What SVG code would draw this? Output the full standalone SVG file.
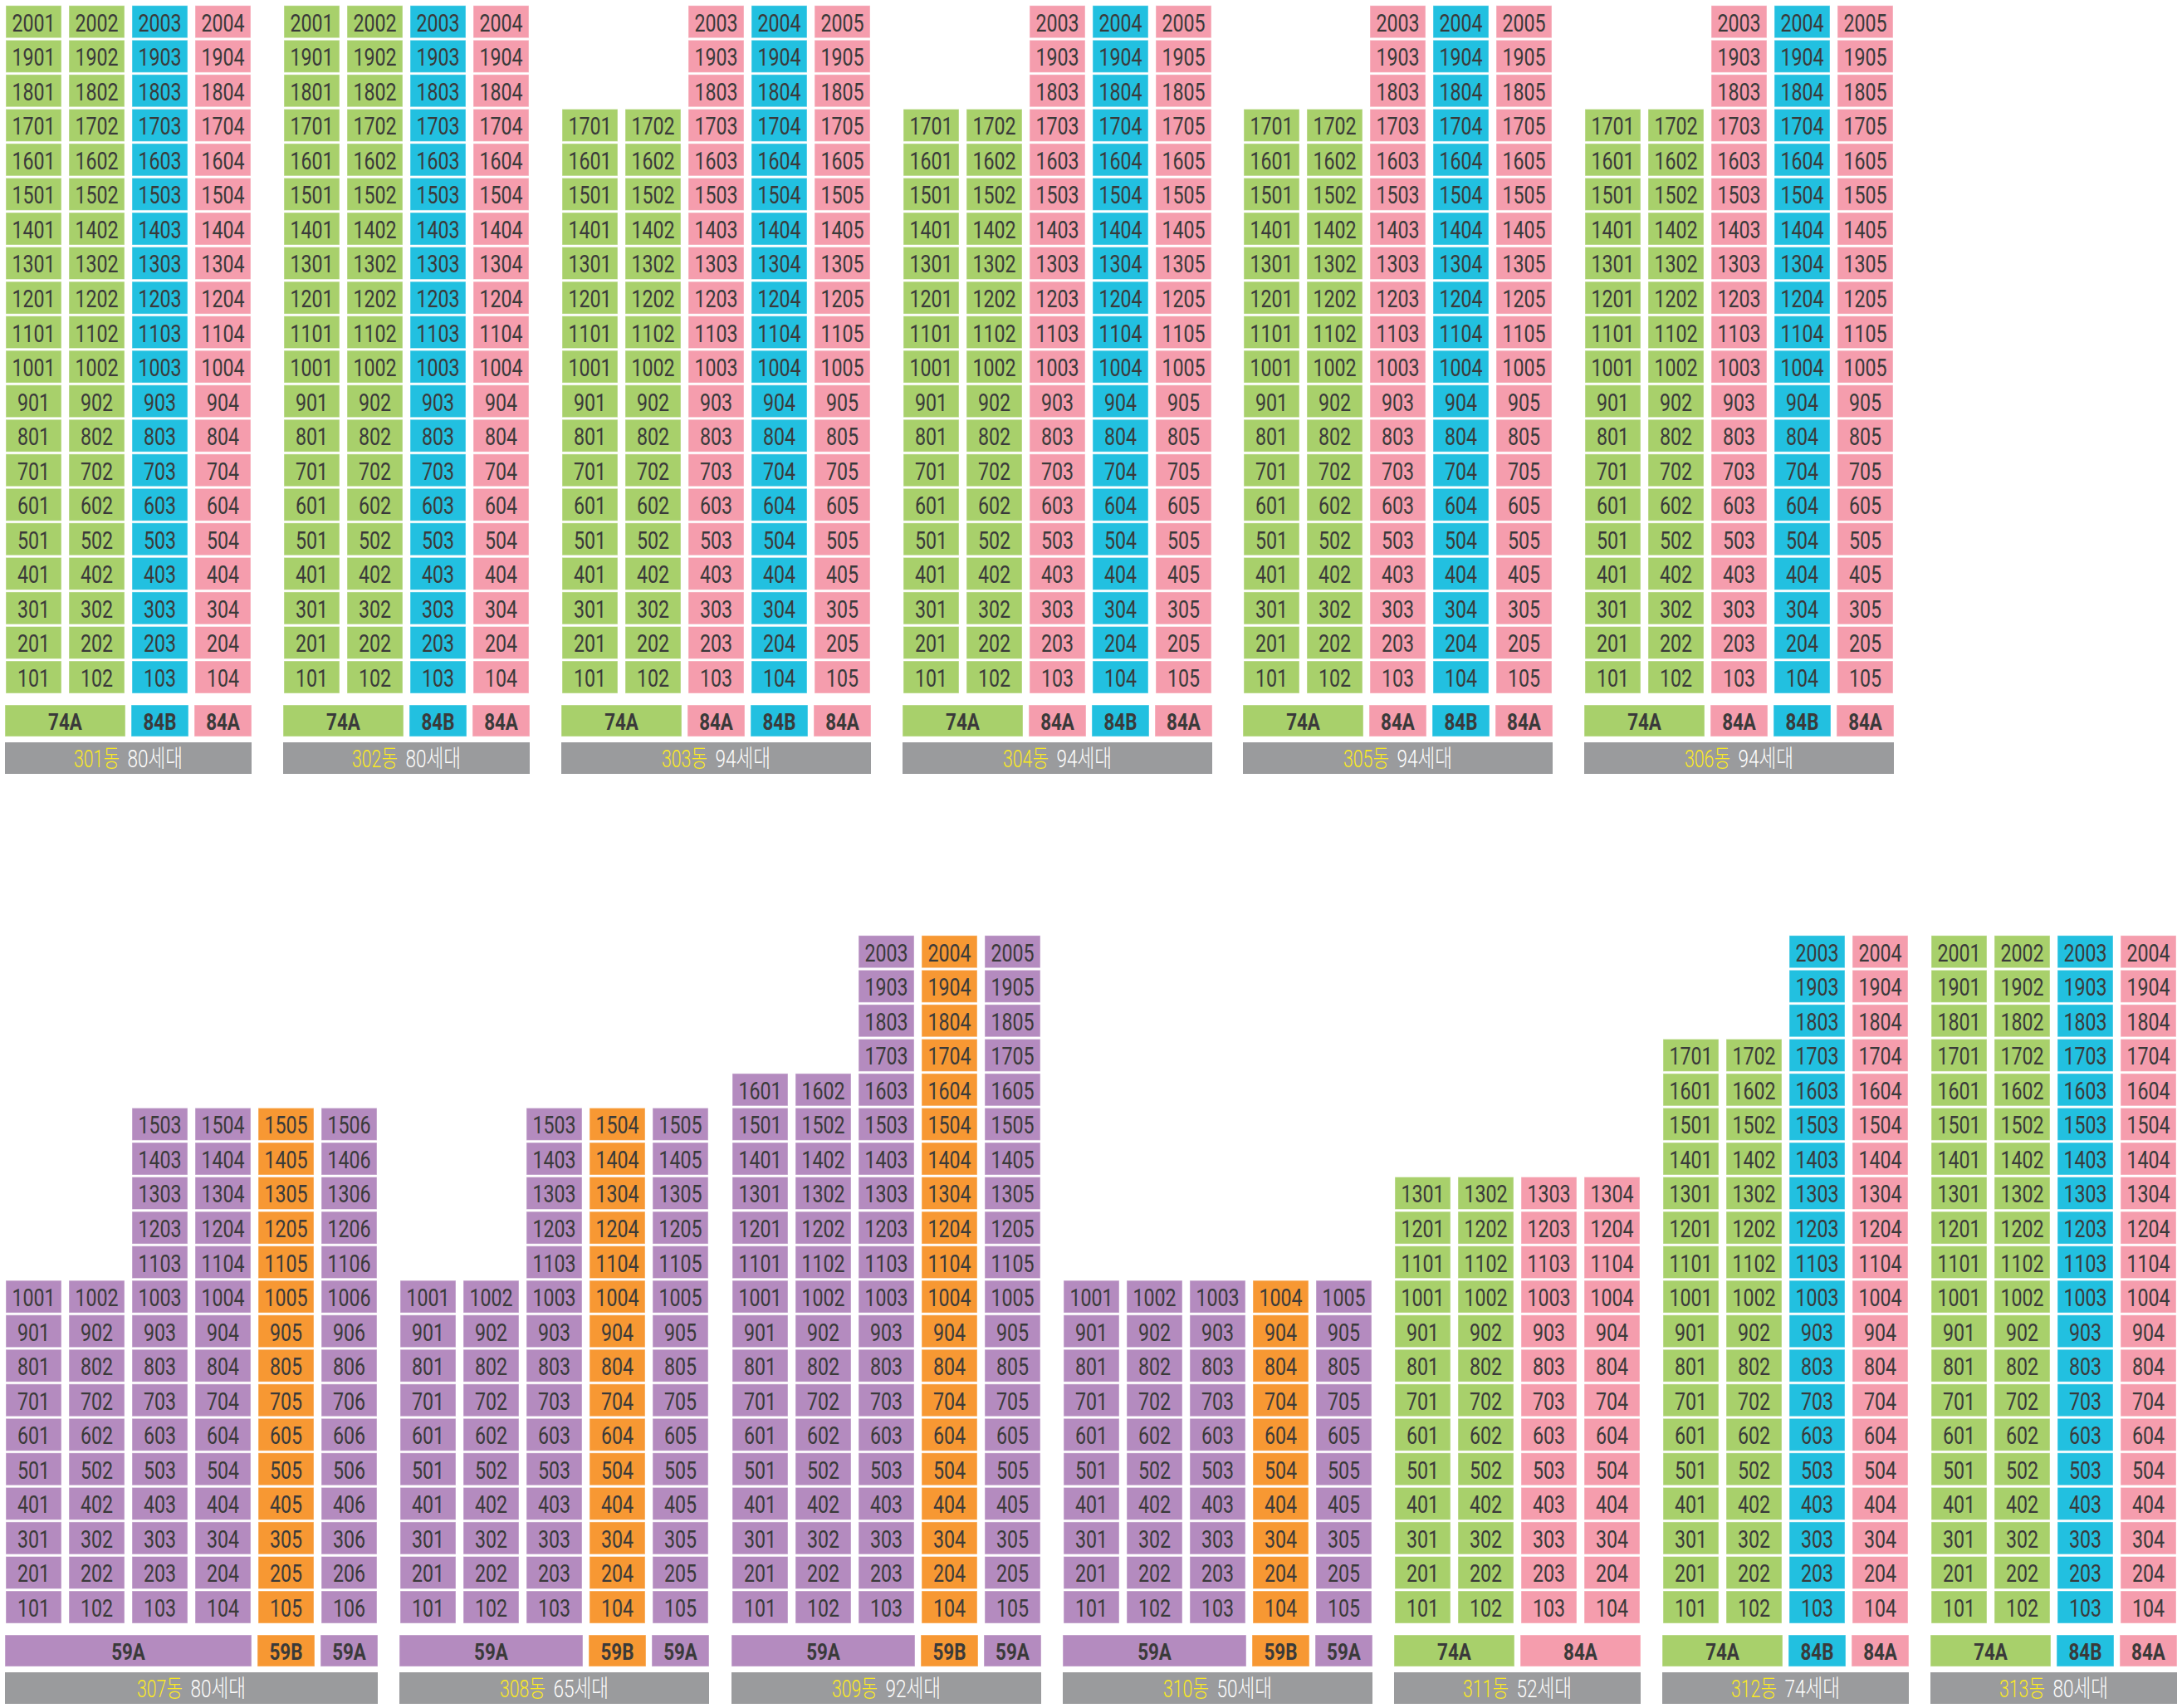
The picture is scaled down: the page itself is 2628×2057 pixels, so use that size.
<svg xmlns="http://www.w3.org/2000/svg" width="2628" height="2057" viewBox="0 0 2628 2057">
<style>
text{font-family:Roboto,"Noto Sans CJK KR",sans-serif;text-anchor:middle;fill:#3a3a3a}
.col rect{x:-33.5px;width:67px;height:39px;stroke:#fff;stroke-opacity:.45;stroke-width:1}
.col text{font-size:29px;transform:scaleX(.8)}
.g rect,.lg{fill:#a8d06b}
.b rect,.lb{fill:#22c0e0}
.p rect,.lp{fill:#f59dad}
.u rect,.lu{fill:#b48bbf}
.o rect,.lo{fill:#f79833}
.lg,.lb,.lp,.lu,.lo{stroke:#fff;stroke-opacity:.45;stroke-width:1}
.lab{font-size:28px;font-weight:bold;transform-box:fill-box;transform-origin:center;transform:scaleX(.8)}
.bar{fill:#9a9b9d}
.nm{font-size:29px;fill:#fff;text-anchor:start;font-weight:300}
.nm.y{fill:#fbea1f;text-anchor:end}
</style>
<rect width="2628" height="2057" fill="#fff"/>

<g id="b301">
<g class="col g" transform="translate(40.5)"><rect y="796"/><text y="827">101</text><rect y="754.5"/><text y="785.5">201</text><rect y="712.9"/><text y="743.9">301</text><rect y="671.4"/><text y="702.4">401</text><rect y="629.8"/><text y="660.8">501</text><rect y="588.3"/><text y="619.3">601</text><rect y="546.8"/><text y="577.8">701</text><rect y="505.2"/><text y="536.2">801</text><rect y="463.7"/><text y="494.7">901</text><rect y="422.1"/><text y="453.1">1001</text><rect y="380.6"/><text y="411.6">1101</text><rect y="339.1"/><text y="370.1">1201</text><rect y="297.5"/><text y="328.5">1301</text><rect y="256"/><text y="287">1401</text><rect y="214.4"/><text y="245.4">1501</text><rect y="172.9"/><text y="203.9">1601</text><rect y="131.4"/><text y="162.4">1701</text><rect y="89.8"/><text y="120.8">1801</text><rect y="48.3"/><text y="79.3">1901</text><rect y="6.7"/><text y="37.7">2001</text></g>
<g class="col g" transform="translate(116.5)"><rect y="796"/><text y="827">102</text><rect y="754.5"/><text y="785.5">202</text><rect y="712.9"/><text y="743.9">302</text><rect y="671.4"/><text y="702.4">402</text><rect y="629.8"/><text y="660.8">502</text><rect y="588.3"/><text y="619.3">602</text><rect y="546.8"/><text y="577.8">702</text><rect y="505.2"/><text y="536.2">802</text><rect y="463.7"/><text y="494.7">902</text><rect y="422.1"/><text y="453.1">1002</text><rect y="380.6"/><text y="411.6">1102</text><rect y="339.1"/><text y="370.1">1202</text><rect y="297.5"/><text y="328.5">1302</text><rect y="256"/><text y="287">1402</text><rect y="214.4"/><text y="245.4">1502</text><rect y="172.9"/><text y="203.9">1602</text><rect y="131.4"/><text y="162.4">1702</text><rect y="89.8"/><text y="120.8">1802</text><rect y="48.3"/><text y="79.3">1902</text><rect y="6.7"/><text y="37.7">2002</text></g>
<g class="col b" transform="translate(192.5)"><rect y="796"/><text y="827">103</text><rect y="754.5"/><text y="785.5">203</text><rect y="712.9"/><text y="743.9">303</text><rect y="671.4"/><text y="702.4">403</text><rect y="629.8"/><text y="660.8">503</text><rect y="588.3"/><text y="619.3">603</text><rect y="546.8"/><text y="577.8">703</text><rect y="505.2"/><text y="536.2">803</text><rect y="463.7"/><text y="494.7">903</text><rect y="422.1"/><text y="453.1">1003</text><rect y="380.6"/><text y="411.6">1103</text><rect y="339.1"/><text y="370.1">1203</text><rect y="297.5"/><text y="328.5">1303</text><rect y="256"/><text y="287">1403</text><rect y="214.4"/><text y="245.4">1503</text><rect y="172.9"/><text y="203.9">1603</text><rect y="131.4"/><text y="162.4">1703</text><rect y="89.8"/><text y="120.8">1803</text><rect y="48.3"/><text y="79.3">1903</text><rect y="6.7"/><text y="37.7">2003</text></g>
<g class="col p" transform="translate(268.5)"><rect y="796"/><text y="827">104</text><rect y="754.5"/><text y="785.5">204</text><rect y="712.9"/><text y="743.9">304</text><rect y="671.4"/><text y="702.4">404</text><rect y="629.8"/><text y="660.8">504</text><rect y="588.3"/><text y="619.3">604</text><rect y="546.8"/><text y="577.8">704</text><rect y="505.2"/><text y="536.2">804</text><rect y="463.7"/><text y="494.7">904</text><rect y="422.1"/><text y="453.1">1004</text><rect y="380.6"/><text y="411.6">1104</text><rect y="339.1"/><text y="370.1">1204</text><rect y="297.5"/><text y="328.5">1304</text><rect y="256"/><text y="287">1404</text><rect y="214.4"/><text y="245.4">1504</text><rect y="172.9"/><text y="203.9">1604</text><rect y="131.4"/><text y="162.4">1704</text><rect y="89.8"/><text y="120.8">1804</text><rect y="48.3"/><text y="79.3">1904</text><rect y="6.7"/><text y="37.7">2004</text></g>
<rect class="lg" x="6" y="849" width="145" height="38"/><text class="lab" x="78.5" y="879">74A</text>
<rect class="lb" x="158" y="849" width="69" height="38"/><text class="lab" x="192.5" y="879">84B</text>
<rect class="lp" x="234" y="849" width="69" height="38"/><text class="lab" x="268.5" y="879">84A</text>
<rect class="bar" x="6" y="894" width="297" height="38"/><text class="nm y" text-anchor="end" x="144" y="923.5" textLength="55" lengthAdjust="spacingAndGlyphs">301동</text><text class="nm" text-anchor="start" x="153.5" y="923.5" textLength="66.5" lengthAdjust="spacingAndGlyphs">80세대</text>
</g>

<g id="b302">
<g class="col g" transform="translate(375.5)"><rect y="796"/><text y="827">101</text><rect y="754.5"/><text y="785.5">201</text><rect y="712.9"/><text y="743.9">301</text><rect y="671.4"/><text y="702.4">401</text><rect y="629.8"/><text y="660.8">501</text><rect y="588.3"/><text y="619.3">601</text><rect y="546.8"/><text y="577.8">701</text><rect y="505.2"/><text y="536.2">801</text><rect y="463.7"/><text y="494.7">901</text><rect y="422.1"/><text y="453.1">1001</text><rect y="380.6"/><text y="411.6">1101</text><rect y="339.1"/><text y="370.1">1201</text><rect y="297.5"/><text y="328.5">1301</text><rect y="256"/><text y="287">1401</text><rect y="214.4"/><text y="245.4">1501</text><rect y="172.9"/><text y="203.9">1601</text><rect y="131.4"/><text y="162.4">1701</text><rect y="89.8"/><text y="120.8">1801</text><rect y="48.3"/><text y="79.3">1901</text><rect y="6.7"/><text y="37.7">2001</text></g>
<g class="col g" transform="translate(451.5)"><rect y="796"/><text y="827">102</text><rect y="754.5"/><text y="785.5">202</text><rect y="712.9"/><text y="743.9">302</text><rect y="671.4"/><text y="702.4">402</text><rect y="629.8"/><text y="660.8">502</text><rect y="588.3"/><text y="619.3">602</text><rect y="546.8"/><text y="577.8">702</text><rect y="505.2"/><text y="536.2">802</text><rect y="463.7"/><text y="494.7">902</text><rect y="422.1"/><text y="453.1">1002</text><rect y="380.6"/><text y="411.6">1102</text><rect y="339.1"/><text y="370.1">1202</text><rect y="297.5"/><text y="328.5">1302</text><rect y="256"/><text y="287">1402</text><rect y="214.4"/><text y="245.4">1502</text><rect y="172.9"/><text y="203.9">1602</text><rect y="131.4"/><text y="162.4">1702</text><rect y="89.8"/><text y="120.8">1802</text><rect y="48.3"/><text y="79.3">1902</text><rect y="6.7"/><text y="37.7">2002</text></g>
<g class="col b" transform="translate(527.5)"><rect y="796"/><text y="827">103</text><rect y="754.5"/><text y="785.5">203</text><rect y="712.9"/><text y="743.9">303</text><rect y="671.4"/><text y="702.4">403</text><rect y="629.8"/><text y="660.8">503</text><rect y="588.3"/><text y="619.3">603</text><rect y="546.8"/><text y="577.8">703</text><rect y="505.2"/><text y="536.2">803</text><rect y="463.7"/><text y="494.7">903</text><rect y="422.1"/><text y="453.1">1003</text><rect y="380.6"/><text y="411.6">1103</text><rect y="339.1"/><text y="370.1">1203</text><rect y="297.5"/><text y="328.5">1303</text><rect y="256"/><text y="287">1403</text><rect y="214.4"/><text y="245.4">1503</text><rect y="172.9"/><text y="203.9">1603</text><rect y="131.4"/><text y="162.4">1703</text><rect y="89.8"/><text y="120.8">1803</text><rect y="48.3"/><text y="79.3">1903</text><rect y="6.7"/><text y="37.7">2003</text></g>
<g class="col p" transform="translate(603.5)"><rect y="796"/><text y="827">104</text><rect y="754.5"/><text y="785.5">204</text><rect y="712.9"/><text y="743.9">304</text><rect y="671.4"/><text y="702.4">404</text><rect y="629.8"/><text y="660.8">504</text><rect y="588.3"/><text y="619.3">604</text><rect y="546.8"/><text y="577.8">704</text><rect y="505.2"/><text y="536.2">804</text><rect y="463.7"/><text y="494.7">904</text><rect y="422.1"/><text y="453.1">1004</text><rect y="380.6"/><text y="411.6">1104</text><rect y="339.1"/><text y="370.1">1204</text><rect y="297.5"/><text y="328.5">1304</text><rect y="256"/><text y="287">1404</text><rect y="214.4"/><text y="245.4">1504</text><rect y="172.9"/><text y="203.9">1604</text><rect y="131.4"/><text y="162.4">1704</text><rect y="89.8"/><text y="120.8">1804</text><rect y="48.3"/><text y="79.3">1904</text><rect y="6.7"/><text y="37.7">2004</text></g>
<rect class="lg" x="341" y="849" width="145" height="38"/><text class="lab" x="413.5" y="879">74A</text>
<rect class="lb" x="493" y="849" width="69" height="38"/><text class="lab" x="527.5" y="879">84B</text>
<rect class="lp" x="569" y="849" width="69" height="38"/><text class="lab" x="603.5" y="879">84A</text>
<rect class="bar" x="341" y="894" width="297" height="38"/><text class="nm y" text-anchor="end" x="479" y="923.5" textLength="55" lengthAdjust="spacingAndGlyphs">302동</text><text class="nm" text-anchor="start" x="488.5" y="923.5" textLength="66.5" lengthAdjust="spacingAndGlyphs">80세대</text>
</g>

<g id="b303">
<g class="col g" transform="translate(710.5)"><rect y="796"/><text y="827">101</text><rect y="754.5"/><text y="785.5">201</text><rect y="712.9"/><text y="743.9">301</text><rect y="671.4"/><text y="702.4">401</text><rect y="629.8"/><text y="660.8">501</text><rect y="588.3"/><text y="619.3">601</text><rect y="546.8"/><text y="577.8">701</text><rect y="505.2"/><text y="536.2">801</text><rect y="463.7"/><text y="494.7">901</text><rect y="422.1"/><text y="453.1">1001</text><rect y="380.6"/><text y="411.6">1101</text><rect y="339.1"/><text y="370.1">1201</text><rect y="297.5"/><text y="328.5">1301</text><rect y="256"/><text y="287">1401</text><rect y="214.4"/><text y="245.4">1501</text><rect y="172.9"/><text y="203.9">1601</text><rect y="131.4"/><text y="162.4">1701</text></g>
<g class="col g" transform="translate(786.5)"><rect y="796"/><text y="827">102</text><rect y="754.5"/><text y="785.5">202</text><rect y="712.9"/><text y="743.9">302</text><rect y="671.4"/><text y="702.4">402</text><rect y="629.8"/><text y="660.8">502</text><rect y="588.3"/><text y="619.3">602</text><rect y="546.8"/><text y="577.8">702</text><rect y="505.2"/><text y="536.2">802</text><rect y="463.7"/><text y="494.7">902</text><rect y="422.1"/><text y="453.1">1002</text><rect y="380.6"/><text y="411.6">1102</text><rect y="339.1"/><text y="370.1">1202</text><rect y="297.5"/><text y="328.5">1302</text><rect y="256"/><text y="287">1402</text><rect y="214.4"/><text y="245.4">1502</text><rect y="172.9"/><text y="203.9">1602</text><rect y="131.4"/><text y="162.4">1702</text></g>
<g class="col p" transform="translate(862.5)"><rect y="796"/><text y="827">103</text><rect y="754.5"/><text y="785.5">203</text><rect y="712.9"/><text y="743.9">303</text><rect y="671.4"/><text y="702.4">403</text><rect y="629.8"/><text y="660.8">503</text><rect y="588.3"/><text y="619.3">603</text><rect y="546.8"/><text y="577.8">703</text><rect y="505.2"/><text y="536.2">803</text><rect y="463.7"/><text y="494.7">903</text><rect y="422.1"/><text y="453.1">1003</text><rect y="380.6"/><text y="411.6">1103</text><rect y="339.1"/><text y="370.1">1203</text><rect y="297.5"/><text y="328.5">1303</text><rect y="256"/><text y="287">1403</text><rect y="214.4"/><text y="245.4">1503</text><rect y="172.9"/><text y="203.9">1603</text><rect y="131.4"/><text y="162.4">1703</text><rect y="89.8"/><text y="120.8">1803</text><rect y="48.3"/><text y="79.3">1903</text><rect y="6.7"/><text y="37.7">2003</text></g>
<g class="col b" transform="translate(938.5)"><rect y="796"/><text y="827">104</text><rect y="754.5"/><text y="785.5">204</text><rect y="712.9"/><text y="743.9">304</text><rect y="671.4"/><text y="702.4">404</text><rect y="629.8"/><text y="660.8">504</text><rect y="588.3"/><text y="619.3">604</text><rect y="546.8"/><text y="577.8">704</text><rect y="505.2"/><text y="536.2">804</text><rect y="463.7"/><text y="494.7">904</text><rect y="422.1"/><text y="453.1">1004</text><rect y="380.6"/><text y="411.6">1104</text><rect y="339.1"/><text y="370.1">1204</text><rect y="297.5"/><text y="328.5">1304</text><rect y="256"/><text y="287">1404</text><rect y="214.4"/><text y="245.4">1504</text><rect y="172.9"/><text y="203.9">1604</text><rect y="131.4"/><text y="162.4">1704</text><rect y="89.8"/><text y="120.8">1804</text><rect y="48.3"/><text y="79.3">1904</text><rect y="6.7"/><text y="37.7">2004</text></g>
<g class="col p" transform="translate(1014.5)"><rect y="796"/><text y="827">105</text><rect y="754.5"/><text y="785.5">205</text><rect y="712.9"/><text y="743.9">305</text><rect y="671.4"/><text y="702.4">405</text><rect y="629.8"/><text y="660.8">505</text><rect y="588.3"/><text y="619.3">605</text><rect y="546.8"/><text y="577.8">705</text><rect y="505.2"/><text y="536.2">805</text><rect y="463.7"/><text y="494.7">905</text><rect y="422.1"/><text y="453.1">1005</text><rect y="380.6"/><text y="411.6">1105</text><rect y="339.1"/><text y="370.1">1205</text><rect y="297.5"/><text y="328.5">1305</text><rect y="256"/><text y="287">1405</text><rect y="214.4"/><text y="245.4">1505</text><rect y="172.9"/><text y="203.9">1605</text><rect y="131.4"/><text y="162.4">1705</text><rect y="89.8"/><text y="120.8">1805</text><rect y="48.3"/><text y="79.3">1905</text><rect y="6.7"/><text y="37.7">2005</text></g>
<rect class="lg" x="676" y="849" width="145" height="38"/><text class="lab" x="748.5" y="879">74A</text>
<rect class="lp" x="828" y="849" width="69" height="38"/><text class="lab" x="862.5" y="879">84A</text>
<rect class="lb" x="904" y="849" width="69" height="38"/><text class="lab" x="938.5" y="879">84B</text>
<rect class="lp" x="980" y="849" width="69" height="38"/><text class="lab" x="1014.5" y="879">84A</text>
<rect class="bar" x="676" y="894" width="373" height="38"/><text class="nm y" text-anchor="end" x="852" y="923.5" textLength="55" lengthAdjust="spacingAndGlyphs">303동</text><text class="nm" text-anchor="start" x="861.5" y="923.5" textLength="66.5" lengthAdjust="spacingAndGlyphs">94세대</text>
</g>

<g id="b304">
<g class="col g" transform="translate(1121.5)"><rect y="796"/><text y="827">101</text><rect y="754.5"/><text y="785.5">201</text><rect y="712.9"/><text y="743.9">301</text><rect y="671.4"/><text y="702.4">401</text><rect y="629.8"/><text y="660.8">501</text><rect y="588.3"/><text y="619.3">601</text><rect y="546.8"/><text y="577.8">701</text><rect y="505.2"/><text y="536.2">801</text><rect y="463.7"/><text y="494.7">901</text><rect y="422.1"/><text y="453.1">1001</text><rect y="380.6"/><text y="411.6">1101</text><rect y="339.1"/><text y="370.1">1201</text><rect y="297.5"/><text y="328.5">1301</text><rect y="256"/><text y="287">1401</text><rect y="214.4"/><text y="245.4">1501</text><rect y="172.9"/><text y="203.9">1601</text><rect y="131.4"/><text y="162.4">1701</text></g>
<g class="col g" transform="translate(1197.5)"><rect y="796"/><text y="827">102</text><rect y="754.5"/><text y="785.5">202</text><rect y="712.9"/><text y="743.9">302</text><rect y="671.4"/><text y="702.4">402</text><rect y="629.8"/><text y="660.8">502</text><rect y="588.3"/><text y="619.3">602</text><rect y="546.8"/><text y="577.8">702</text><rect y="505.2"/><text y="536.2">802</text><rect y="463.7"/><text y="494.7">902</text><rect y="422.1"/><text y="453.1">1002</text><rect y="380.6"/><text y="411.6">1102</text><rect y="339.1"/><text y="370.1">1202</text><rect y="297.5"/><text y="328.5">1302</text><rect y="256"/><text y="287">1402</text><rect y="214.4"/><text y="245.4">1502</text><rect y="172.9"/><text y="203.9">1602</text><rect y="131.4"/><text y="162.4">1702</text></g>
<g class="col p" transform="translate(1273.5)"><rect y="796"/><text y="827">103</text><rect y="754.5"/><text y="785.5">203</text><rect y="712.9"/><text y="743.9">303</text><rect y="671.4"/><text y="702.4">403</text><rect y="629.8"/><text y="660.8">503</text><rect y="588.3"/><text y="619.3">603</text><rect y="546.8"/><text y="577.8">703</text><rect y="505.2"/><text y="536.2">803</text><rect y="463.7"/><text y="494.7">903</text><rect y="422.1"/><text y="453.1">1003</text><rect y="380.6"/><text y="411.6">1103</text><rect y="339.1"/><text y="370.1">1203</text><rect y="297.5"/><text y="328.5">1303</text><rect y="256"/><text y="287">1403</text><rect y="214.4"/><text y="245.4">1503</text><rect y="172.9"/><text y="203.9">1603</text><rect y="131.4"/><text y="162.4">1703</text><rect y="89.8"/><text y="120.8">1803</text><rect y="48.3"/><text y="79.3">1903</text><rect y="6.7"/><text y="37.7">2003</text></g>
<g class="col b" transform="translate(1349.5)"><rect y="796"/><text y="827">104</text><rect y="754.5"/><text y="785.5">204</text><rect y="712.9"/><text y="743.9">304</text><rect y="671.4"/><text y="702.4">404</text><rect y="629.8"/><text y="660.8">504</text><rect y="588.3"/><text y="619.3">604</text><rect y="546.8"/><text y="577.8">704</text><rect y="505.2"/><text y="536.2">804</text><rect y="463.7"/><text y="494.7">904</text><rect y="422.1"/><text y="453.1">1004</text><rect y="380.6"/><text y="411.6">1104</text><rect y="339.1"/><text y="370.1">1204</text><rect y="297.5"/><text y="328.5">1304</text><rect y="256"/><text y="287">1404</text><rect y="214.4"/><text y="245.4">1504</text><rect y="172.9"/><text y="203.9">1604</text><rect y="131.4"/><text y="162.4">1704</text><rect y="89.8"/><text y="120.8">1804</text><rect y="48.3"/><text y="79.3">1904</text><rect y="6.7"/><text y="37.7">2004</text></g>
<g class="col p" transform="translate(1425.5)"><rect y="796"/><text y="827">105</text><rect y="754.5"/><text y="785.5">205</text><rect y="712.9"/><text y="743.9">305</text><rect y="671.4"/><text y="702.4">405</text><rect y="629.8"/><text y="660.8">505</text><rect y="588.3"/><text y="619.3">605</text><rect y="546.8"/><text y="577.8">705</text><rect y="505.2"/><text y="536.2">805</text><rect y="463.7"/><text y="494.7">905</text><rect y="422.1"/><text y="453.1">1005</text><rect y="380.6"/><text y="411.6">1105</text><rect y="339.1"/><text y="370.1">1205</text><rect y="297.5"/><text y="328.5">1305</text><rect y="256"/><text y="287">1405</text><rect y="214.4"/><text y="245.4">1505</text><rect y="172.9"/><text y="203.9">1605</text><rect y="131.4"/><text y="162.4">1705</text><rect y="89.8"/><text y="120.8">1805</text><rect y="48.3"/><text y="79.3">1905</text><rect y="6.7"/><text y="37.7">2005</text></g>
<rect class="lg" x="1087" y="849" width="145" height="38"/><text class="lab" x="1159.5" y="879">74A</text>
<rect class="lp" x="1239" y="849" width="69" height="38"/><text class="lab" x="1273.5" y="879">84A</text>
<rect class="lb" x="1315" y="849" width="69" height="38"/><text class="lab" x="1349.5" y="879">84B</text>
<rect class="lp" x="1391" y="849" width="69" height="38"/><text class="lab" x="1425.5" y="879">84A</text>
<rect class="bar" x="1087" y="894" width="373" height="38"/><text class="nm y" text-anchor="end" x="1263" y="923.5" textLength="55" lengthAdjust="spacingAndGlyphs">304동</text><text class="nm" text-anchor="start" x="1272.5" y="923.5" textLength="66.5" lengthAdjust="spacingAndGlyphs">94세대</text>
</g>

<g id="b305">
<g class="col g" transform="translate(1531.5)"><rect y="796"/><text y="827">101</text><rect y="754.5"/><text y="785.5">201</text><rect y="712.9"/><text y="743.9">301</text><rect y="671.4"/><text y="702.4">401</text><rect y="629.8"/><text y="660.8">501</text><rect y="588.3"/><text y="619.3">601</text><rect y="546.8"/><text y="577.8">701</text><rect y="505.2"/><text y="536.2">801</text><rect y="463.7"/><text y="494.7">901</text><rect y="422.1"/><text y="453.1">1001</text><rect y="380.6"/><text y="411.6">1101</text><rect y="339.1"/><text y="370.1">1201</text><rect y="297.5"/><text y="328.5">1301</text><rect y="256"/><text y="287">1401</text><rect y="214.4"/><text y="245.4">1501</text><rect y="172.9"/><text y="203.9">1601</text><rect y="131.4"/><text y="162.4">1701</text></g>
<g class="col g" transform="translate(1607.5)"><rect y="796"/><text y="827">102</text><rect y="754.5"/><text y="785.5">202</text><rect y="712.9"/><text y="743.9">302</text><rect y="671.4"/><text y="702.4">402</text><rect y="629.8"/><text y="660.8">502</text><rect y="588.3"/><text y="619.3">602</text><rect y="546.8"/><text y="577.8">702</text><rect y="505.2"/><text y="536.2">802</text><rect y="463.7"/><text y="494.7">902</text><rect y="422.1"/><text y="453.1">1002</text><rect y="380.6"/><text y="411.6">1102</text><rect y="339.1"/><text y="370.1">1202</text><rect y="297.5"/><text y="328.5">1302</text><rect y="256"/><text y="287">1402</text><rect y="214.4"/><text y="245.4">1502</text><rect y="172.9"/><text y="203.9">1602</text><rect y="131.4"/><text y="162.4">1702</text></g>
<g class="col p" transform="translate(1683.5)"><rect y="796"/><text y="827">103</text><rect y="754.5"/><text y="785.5">203</text><rect y="712.9"/><text y="743.9">303</text><rect y="671.4"/><text y="702.4">403</text><rect y="629.8"/><text y="660.8">503</text><rect y="588.3"/><text y="619.3">603</text><rect y="546.8"/><text y="577.8">703</text><rect y="505.2"/><text y="536.2">803</text><rect y="463.7"/><text y="494.7">903</text><rect y="422.1"/><text y="453.1">1003</text><rect y="380.6"/><text y="411.6">1103</text><rect y="339.1"/><text y="370.1">1203</text><rect y="297.5"/><text y="328.5">1303</text><rect y="256"/><text y="287">1403</text><rect y="214.4"/><text y="245.4">1503</text><rect y="172.9"/><text y="203.9">1603</text><rect y="131.4"/><text y="162.4">1703</text><rect y="89.8"/><text y="120.8">1803</text><rect y="48.3"/><text y="79.3">1903</text><rect y="6.7"/><text y="37.7">2003</text></g>
<g class="col b" transform="translate(1759.5)"><rect y="796"/><text y="827">104</text><rect y="754.5"/><text y="785.5">204</text><rect y="712.9"/><text y="743.9">304</text><rect y="671.4"/><text y="702.4">404</text><rect y="629.8"/><text y="660.8">504</text><rect y="588.3"/><text y="619.3">604</text><rect y="546.8"/><text y="577.8">704</text><rect y="505.2"/><text y="536.2">804</text><rect y="463.7"/><text y="494.7">904</text><rect y="422.1"/><text y="453.1">1004</text><rect y="380.6"/><text y="411.6">1104</text><rect y="339.1"/><text y="370.1">1204</text><rect y="297.5"/><text y="328.5">1304</text><rect y="256"/><text y="287">1404</text><rect y="214.4"/><text y="245.4">1504</text><rect y="172.9"/><text y="203.9">1604</text><rect y="131.4"/><text y="162.4">1704</text><rect y="89.8"/><text y="120.8">1804</text><rect y="48.3"/><text y="79.3">1904</text><rect y="6.7"/><text y="37.7">2004</text></g>
<g class="col p" transform="translate(1835.5)"><rect y="796"/><text y="827">105</text><rect y="754.5"/><text y="785.5">205</text><rect y="712.9"/><text y="743.9">305</text><rect y="671.4"/><text y="702.4">405</text><rect y="629.8"/><text y="660.8">505</text><rect y="588.3"/><text y="619.3">605</text><rect y="546.8"/><text y="577.8">705</text><rect y="505.2"/><text y="536.2">805</text><rect y="463.7"/><text y="494.7">905</text><rect y="422.1"/><text y="453.1">1005</text><rect y="380.6"/><text y="411.6">1105</text><rect y="339.1"/><text y="370.1">1205</text><rect y="297.5"/><text y="328.5">1305</text><rect y="256"/><text y="287">1405</text><rect y="214.4"/><text y="245.4">1505</text><rect y="172.9"/><text y="203.9">1605</text><rect y="131.4"/><text y="162.4">1705</text><rect y="89.8"/><text y="120.8">1805</text><rect y="48.3"/><text y="79.3">1905</text><rect y="6.7"/><text y="37.7">2005</text></g>
<rect class="lg" x="1497" y="849" width="145" height="38"/><text class="lab" x="1569.5" y="879">74A</text>
<rect class="lp" x="1649" y="849" width="69" height="38"/><text class="lab" x="1683.5" y="879">84A</text>
<rect class="lb" x="1725" y="849" width="69" height="38"/><text class="lab" x="1759.5" y="879">84B</text>
<rect class="lp" x="1801" y="849" width="69" height="38"/><text class="lab" x="1835.5" y="879">84A</text>
<rect class="bar" x="1497" y="894" width="373" height="38"/><text class="nm y" text-anchor="end" x="1673" y="923.5" textLength="55" lengthAdjust="spacingAndGlyphs">305동</text><text class="nm" text-anchor="start" x="1682.5" y="923.5" textLength="66.5" lengthAdjust="spacingAndGlyphs">94세대</text>
</g>

<g id="b306">
<g class="col g" transform="translate(1942.5)"><rect y="796"/><text y="827">101</text><rect y="754.5"/><text y="785.5">201</text><rect y="712.9"/><text y="743.9">301</text><rect y="671.4"/><text y="702.4">401</text><rect y="629.8"/><text y="660.8">501</text><rect y="588.3"/><text y="619.3">601</text><rect y="546.8"/><text y="577.8">701</text><rect y="505.2"/><text y="536.2">801</text><rect y="463.7"/><text y="494.7">901</text><rect y="422.1"/><text y="453.1">1001</text><rect y="380.6"/><text y="411.6">1101</text><rect y="339.1"/><text y="370.1">1201</text><rect y="297.5"/><text y="328.5">1301</text><rect y="256"/><text y="287">1401</text><rect y="214.4"/><text y="245.4">1501</text><rect y="172.9"/><text y="203.9">1601</text><rect y="131.4"/><text y="162.4">1701</text></g>
<g class="col g" transform="translate(2018.5)"><rect y="796"/><text y="827">102</text><rect y="754.5"/><text y="785.5">202</text><rect y="712.9"/><text y="743.9">302</text><rect y="671.4"/><text y="702.4">402</text><rect y="629.8"/><text y="660.8">502</text><rect y="588.3"/><text y="619.3">602</text><rect y="546.8"/><text y="577.8">702</text><rect y="505.2"/><text y="536.2">802</text><rect y="463.7"/><text y="494.7">902</text><rect y="422.1"/><text y="453.1">1002</text><rect y="380.6"/><text y="411.6">1102</text><rect y="339.1"/><text y="370.1">1202</text><rect y="297.5"/><text y="328.5">1302</text><rect y="256"/><text y="287">1402</text><rect y="214.4"/><text y="245.4">1502</text><rect y="172.9"/><text y="203.9">1602</text><rect y="131.4"/><text y="162.4">1702</text></g>
<g class="col p" transform="translate(2094.5)"><rect y="796"/><text y="827">103</text><rect y="754.5"/><text y="785.5">203</text><rect y="712.9"/><text y="743.9">303</text><rect y="671.4"/><text y="702.4">403</text><rect y="629.8"/><text y="660.8">503</text><rect y="588.3"/><text y="619.3">603</text><rect y="546.8"/><text y="577.8">703</text><rect y="505.2"/><text y="536.2">803</text><rect y="463.7"/><text y="494.7">903</text><rect y="422.1"/><text y="453.1">1003</text><rect y="380.6"/><text y="411.6">1103</text><rect y="339.1"/><text y="370.1">1203</text><rect y="297.5"/><text y="328.5">1303</text><rect y="256"/><text y="287">1403</text><rect y="214.4"/><text y="245.4">1503</text><rect y="172.9"/><text y="203.9">1603</text><rect y="131.4"/><text y="162.4">1703</text><rect y="89.8"/><text y="120.8">1803</text><rect y="48.3"/><text y="79.3">1903</text><rect y="6.7"/><text y="37.7">2003</text></g>
<g class="col b" transform="translate(2170.5)"><rect y="796"/><text y="827">104</text><rect y="754.5"/><text y="785.5">204</text><rect y="712.9"/><text y="743.9">304</text><rect y="671.4"/><text y="702.4">404</text><rect y="629.8"/><text y="660.8">504</text><rect y="588.3"/><text y="619.3">604</text><rect y="546.8"/><text y="577.8">704</text><rect y="505.2"/><text y="536.2">804</text><rect y="463.7"/><text y="494.7">904</text><rect y="422.1"/><text y="453.1">1004</text><rect y="380.6"/><text y="411.6">1104</text><rect y="339.1"/><text y="370.1">1204</text><rect y="297.5"/><text y="328.5">1304</text><rect y="256"/><text y="287">1404</text><rect y="214.4"/><text y="245.4">1504</text><rect y="172.9"/><text y="203.9">1604</text><rect y="131.4"/><text y="162.4">1704</text><rect y="89.8"/><text y="120.8">1804</text><rect y="48.3"/><text y="79.3">1904</text><rect y="6.7"/><text y="37.7">2004</text></g>
<g class="col p" transform="translate(2246.5)"><rect y="796"/><text y="827">105</text><rect y="754.5"/><text y="785.5">205</text><rect y="712.9"/><text y="743.9">305</text><rect y="671.4"/><text y="702.4">405</text><rect y="629.8"/><text y="660.8">505</text><rect y="588.3"/><text y="619.3">605</text><rect y="546.8"/><text y="577.8">705</text><rect y="505.2"/><text y="536.2">805</text><rect y="463.7"/><text y="494.7">905</text><rect y="422.1"/><text y="453.1">1005</text><rect y="380.6"/><text y="411.6">1105</text><rect y="339.1"/><text y="370.1">1205</text><rect y="297.5"/><text y="328.5">1305</text><rect y="256"/><text y="287">1405</text><rect y="214.4"/><text y="245.4">1505</text><rect y="172.9"/><text y="203.9">1605</text><rect y="131.4"/><text y="162.4">1705</text><rect y="89.8"/><text y="120.8">1805</text><rect y="48.3"/><text y="79.3">1905</text><rect y="6.7"/><text y="37.7">2005</text></g>
<rect class="lg" x="1908" y="849" width="145" height="38"/><text class="lab" x="1980.5" y="879">74A</text>
<rect class="lp" x="2060" y="849" width="69" height="38"/><text class="lab" x="2094.5" y="879">84A</text>
<rect class="lb" x="2136" y="849" width="69" height="38"/><text class="lab" x="2170.5" y="879">84B</text>
<rect class="lp" x="2212" y="849" width="69" height="38"/><text class="lab" x="2246.5" y="879">84A</text>
<rect class="bar" x="1908" y="894" width="373" height="38"/><text class="nm y" text-anchor="end" x="2084" y="923.5" textLength="55" lengthAdjust="spacingAndGlyphs">306동</text><text class="nm" text-anchor="start" x="2093.5" y="923.5" textLength="66.5" lengthAdjust="spacingAndGlyphs">94세대</text>
</g>

<g id="b307" transform="translate(0,1120)">
<g class="col u" transform="translate(40.5)"><rect y="796"/><text y="827">101</text><rect y="754.5"/><text y="785.5">201</text><rect y="712.9"/><text y="743.9">301</text><rect y="671.4"/><text y="702.4">401</text><rect y="629.8"/><text y="660.8">501</text><rect y="588.3"/><text y="619.3">601</text><rect y="546.8"/><text y="577.8">701</text><rect y="505.2"/><text y="536.2">801</text><rect y="463.7"/><text y="494.7">901</text><rect y="422.1"/><text y="453.1">1001</text></g>
<g class="col u" transform="translate(116.5)"><rect y="796"/><text y="827">102</text><rect y="754.5"/><text y="785.5">202</text><rect y="712.9"/><text y="743.9">302</text><rect y="671.4"/><text y="702.4">402</text><rect y="629.8"/><text y="660.8">502</text><rect y="588.3"/><text y="619.3">602</text><rect y="546.8"/><text y="577.8">702</text><rect y="505.2"/><text y="536.2">802</text><rect y="463.7"/><text y="494.7">902</text><rect y="422.1"/><text y="453.1">1002</text></g>
<g class="col u" transform="translate(192.5)"><rect y="796"/><text y="827">103</text><rect y="754.5"/><text y="785.5">203</text><rect y="712.9"/><text y="743.9">303</text><rect y="671.4"/><text y="702.4">403</text><rect y="629.8"/><text y="660.8">503</text><rect y="588.3"/><text y="619.3">603</text><rect y="546.8"/><text y="577.8">703</text><rect y="505.2"/><text y="536.2">803</text><rect y="463.7"/><text y="494.7">903</text><rect y="422.1"/><text y="453.1">1003</text><rect y="380.6"/><text y="411.6">1103</text><rect y="339.1"/><text y="370.1">1203</text><rect y="297.5"/><text y="328.5">1303</text><rect y="256"/><text y="287">1403</text><rect y="214.4"/><text y="245.4">1503</text></g>
<g class="col u" transform="translate(268.5)"><rect y="796"/><text y="827">104</text><rect y="754.5"/><text y="785.5">204</text><rect y="712.9"/><text y="743.9">304</text><rect y="671.4"/><text y="702.4">404</text><rect y="629.8"/><text y="660.8">504</text><rect y="588.3"/><text y="619.3">604</text><rect y="546.8"/><text y="577.8">704</text><rect y="505.2"/><text y="536.2">804</text><rect y="463.7"/><text y="494.7">904</text><rect y="422.1"/><text y="453.1">1004</text><rect y="380.6"/><text y="411.6">1104</text><rect y="339.1"/><text y="370.1">1204</text><rect y="297.5"/><text y="328.5">1304</text><rect y="256"/><text y="287">1404</text><rect y="214.4"/><text y="245.4">1504</text></g>
<g class="col o" transform="translate(344.5)"><rect y="796"/><text y="827">105</text><rect y="754.5"/><text y="785.5">205</text><rect y="712.9"/><text y="743.9">305</text><rect y="671.4"/><text y="702.4">405</text><rect y="629.8"/><text y="660.8">505</text><rect y="588.3"/><text y="619.3">605</text><rect y="546.8"/><text y="577.8">705</text><rect y="505.2"/><text y="536.2">805</text><rect y="463.7"/><text y="494.7">905</text><rect y="422.1"/><text y="453.1">1005</text><rect y="380.6"/><text y="411.6">1105</text><rect y="339.1"/><text y="370.1">1205</text><rect y="297.5"/><text y="328.5">1305</text><rect y="256"/><text y="287">1405</text><rect y="214.4"/><text y="245.4">1505</text></g>
<g class="col u" transform="translate(420.5)"><rect y="796"/><text y="827">106</text><rect y="754.5"/><text y="785.5">206</text><rect y="712.9"/><text y="743.9">306</text><rect y="671.4"/><text y="702.4">406</text><rect y="629.8"/><text y="660.8">506</text><rect y="588.3"/><text y="619.3">606</text><rect y="546.8"/><text y="577.8">706</text><rect y="505.2"/><text y="536.2">806</text><rect y="463.7"/><text y="494.7">906</text><rect y="422.1"/><text y="453.1">1006</text><rect y="380.6"/><text y="411.6">1106</text><rect y="339.1"/><text y="370.1">1206</text><rect y="297.5"/><text y="328.5">1306</text><rect y="256"/><text y="287">1406</text><rect y="214.4"/><text y="245.4">1506</text></g>
<rect class="lu" x="6" y="849" width="297" height="38"/><text class="lab" x="154.5" y="879">59A</text>
<rect class="lo" x="310" y="849" width="69" height="38"/><text class="lab" x="344.5" y="879">59B</text>
<rect class="lu" x="386" y="849" width="69" height="38"/><text class="lab" x="420.5" y="879">59A</text>
<rect class="bar" x="6" y="894" width="449" height="38"/><text class="nm y" text-anchor="end" x="220" y="923.5" textLength="55" lengthAdjust="spacingAndGlyphs">307동</text><text class="nm" text-anchor="start" x="229.5" y="923.5" textLength="66.5" lengthAdjust="spacingAndGlyphs">80세대</text>
</g>

<g id="b308" transform="translate(0,1120)">
<g class="col u" transform="translate(515.5)"><rect y="796"/><text y="827">101</text><rect y="754.5"/><text y="785.5">201</text><rect y="712.9"/><text y="743.9">301</text><rect y="671.4"/><text y="702.4">401</text><rect y="629.8"/><text y="660.8">501</text><rect y="588.3"/><text y="619.3">601</text><rect y="546.8"/><text y="577.8">701</text><rect y="505.2"/><text y="536.2">801</text><rect y="463.7"/><text y="494.7">901</text><rect y="422.1"/><text y="453.1">1001</text></g>
<g class="col u" transform="translate(591.5)"><rect y="796"/><text y="827">102</text><rect y="754.5"/><text y="785.5">202</text><rect y="712.9"/><text y="743.9">302</text><rect y="671.4"/><text y="702.4">402</text><rect y="629.8"/><text y="660.8">502</text><rect y="588.3"/><text y="619.3">602</text><rect y="546.8"/><text y="577.8">702</text><rect y="505.2"/><text y="536.2">802</text><rect y="463.7"/><text y="494.7">902</text><rect y="422.1"/><text y="453.1">1002</text></g>
<g class="col u" transform="translate(667.5)"><rect y="796"/><text y="827">103</text><rect y="754.5"/><text y="785.5">203</text><rect y="712.9"/><text y="743.9">303</text><rect y="671.4"/><text y="702.4">403</text><rect y="629.8"/><text y="660.8">503</text><rect y="588.3"/><text y="619.3">603</text><rect y="546.8"/><text y="577.8">703</text><rect y="505.2"/><text y="536.2">803</text><rect y="463.7"/><text y="494.7">903</text><rect y="422.1"/><text y="453.1">1003</text><rect y="380.6"/><text y="411.6">1103</text><rect y="339.1"/><text y="370.1">1203</text><rect y="297.5"/><text y="328.5">1303</text><rect y="256"/><text y="287">1403</text><rect y="214.4"/><text y="245.4">1503</text></g>
<g class="col o" transform="translate(743.5)"><rect y="796"/><text y="827">104</text><rect y="754.5"/><text y="785.5">204</text><rect y="712.9"/><text y="743.9">304</text><rect y="671.4"/><text y="702.4">404</text><rect y="629.8"/><text y="660.8">504</text><rect y="588.3"/><text y="619.3">604</text><rect y="546.8"/><text y="577.8">704</text><rect y="505.2"/><text y="536.2">804</text><rect y="463.7"/><text y="494.7">904</text><rect y="422.1"/><text y="453.1">1004</text><rect y="380.6"/><text y="411.6">1104</text><rect y="339.1"/><text y="370.1">1204</text><rect y="297.5"/><text y="328.5">1304</text><rect y="256"/><text y="287">1404</text><rect y="214.4"/><text y="245.4">1504</text></g>
<g class="col u" transform="translate(819.5)"><rect y="796"/><text y="827">105</text><rect y="754.5"/><text y="785.5">205</text><rect y="712.9"/><text y="743.9">305</text><rect y="671.4"/><text y="702.4">405</text><rect y="629.8"/><text y="660.8">505</text><rect y="588.3"/><text y="619.3">605</text><rect y="546.8"/><text y="577.8">705</text><rect y="505.2"/><text y="536.2">805</text><rect y="463.7"/><text y="494.7">905</text><rect y="422.1"/><text y="453.1">1005</text><rect y="380.6"/><text y="411.6">1105</text><rect y="339.1"/><text y="370.1">1205</text><rect y="297.5"/><text y="328.5">1305</text><rect y="256"/><text y="287">1405</text><rect y="214.4"/><text y="245.4">1505</text></g>
<rect class="lu" x="481" y="849" width="221" height="38"/><text class="lab" x="591.5" y="879">59A</text>
<rect class="lo" x="709" y="849" width="69" height="38"/><text class="lab" x="743.5" y="879">59B</text>
<rect class="lu" x="785" y="849" width="69" height="38"/><text class="lab" x="819.5" y="879">59A</text>
<rect class="bar" x="481" y="894" width="373" height="38"/><text class="nm y" text-anchor="end" x="657" y="923.5" textLength="55" lengthAdjust="spacingAndGlyphs">308동</text><text class="nm" text-anchor="start" x="666.5" y="923.5" textLength="66.5" lengthAdjust="spacingAndGlyphs">65세대</text>
</g>

<g id="b309" transform="translate(0,1120)">
<g class="col u" transform="translate(915.5)"><rect y="796"/><text y="827">101</text><rect y="754.5"/><text y="785.5">201</text><rect y="712.9"/><text y="743.9">301</text><rect y="671.4"/><text y="702.4">401</text><rect y="629.8"/><text y="660.8">501</text><rect y="588.3"/><text y="619.3">601</text><rect y="546.8"/><text y="577.8">701</text><rect y="505.2"/><text y="536.2">801</text><rect y="463.7"/><text y="494.7">901</text><rect y="422.1"/><text y="453.1">1001</text><rect y="380.6"/><text y="411.6">1101</text><rect y="339.1"/><text y="370.1">1201</text><rect y="297.5"/><text y="328.5">1301</text><rect y="256"/><text y="287">1401</text><rect y="214.4"/><text y="245.4">1501</text><rect y="172.9"/><text y="203.9">1601</text></g>
<g class="col u" transform="translate(991.5)"><rect y="796"/><text y="827">102</text><rect y="754.5"/><text y="785.5">202</text><rect y="712.9"/><text y="743.9">302</text><rect y="671.4"/><text y="702.4">402</text><rect y="629.8"/><text y="660.8">502</text><rect y="588.3"/><text y="619.3">602</text><rect y="546.8"/><text y="577.8">702</text><rect y="505.2"/><text y="536.2">802</text><rect y="463.7"/><text y="494.7">902</text><rect y="422.1"/><text y="453.1">1002</text><rect y="380.6"/><text y="411.6">1102</text><rect y="339.1"/><text y="370.1">1202</text><rect y="297.5"/><text y="328.5">1302</text><rect y="256"/><text y="287">1402</text><rect y="214.4"/><text y="245.4">1502</text><rect y="172.9"/><text y="203.9">1602</text></g>
<g class="col u" transform="translate(1067.5)"><rect y="796"/><text y="827">103</text><rect y="754.5"/><text y="785.5">203</text><rect y="712.9"/><text y="743.9">303</text><rect y="671.4"/><text y="702.4">403</text><rect y="629.8"/><text y="660.8">503</text><rect y="588.3"/><text y="619.3">603</text><rect y="546.8"/><text y="577.8">703</text><rect y="505.2"/><text y="536.2">803</text><rect y="463.7"/><text y="494.7">903</text><rect y="422.1"/><text y="453.1">1003</text><rect y="380.6"/><text y="411.6">1103</text><rect y="339.1"/><text y="370.1">1203</text><rect y="297.5"/><text y="328.5">1303</text><rect y="256"/><text y="287">1403</text><rect y="214.4"/><text y="245.4">1503</text><rect y="172.9"/><text y="203.9">1603</text><rect y="131.4"/><text y="162.4">1703</text><rect y="89.8"/><text y="120.8">1803</text><rect y="48.3"/><text y="79.3">1903</text><rect y="6.7"/><text y="37.7">2003</text></g>
<g class="col o" transform="translate(1143.5)"><rect y="796"/><text y="827">104</text><rect y="754.5"/><text y="785.5">204</text><rect y="712.9"/><text y="743.9">304</text><rect y="671.4"/><text y="702.4">404</text><rect y="629.8"/><text y="660.8">504</text><rect y="588.3"/><text y="619.3">604</text><rect y="546.8"/><text y="577.8">704</text><rect y="505.2"/><text y="536.2">804</text><rect y="463.7"/><text y="494.7">904</text><rect y="422.1"/><text y="453.1">1004</text><rect y="380.6"/><text y="411.6">1104</text><rect y="339.1"/><text y="370.1">1204</text><rect y="297.5"/><text y="328.5">1304</text><rect y="256"/><text y="287">1404</text><rect y="214.4"/><text y="245.4">1504</text><rect y="172.9"/><text y="203.9">1604</text><rect y="131.4"/><text y="162.4">1704</text><rect y="89.8"/><text y="120.8">1804</text><rect y="48.3"/><text y="79.3">1904</text><rect y="6.7"/><text y="37.7">2004</text></g>
<g class="col u" transform="translate(1219.5)"><rect y="796"/><text y="827">105</text><rect y="754.5"/><text y="785.5">205</text><rect y="712.9"/><text y="743.9">305</text><rect y="671.4"/><text y="702.4">405</text><rect y="629.8"/><text y="660.8">505</text><rect y="588.3"/><text y="619.3">605</text><rect y="546.8"/><text y="577.8">705</text><rect y="505.2"/><text y="536.2">805</text><rect y="463.7"/><text y="494.7">905</text><rect y="422.1"/><text y="453.1">1005</text><rect y="380.6"/><text y="411.6">1105</text><rect y="339.1"/><text y="370.1">1205</text><rect y="297.5"/><text y="328.5">1305</text><rect y="256"/><text y="287">1405</text><rect y="214.4"/><text y="245.4">1505</text><rect y="172.9"/><text y="203.9">1605</text><rect y="131.4"/><text y="162.4">1705</text><rect y="89.8"/><text y="120.8">1805</text><rect y="48.3"/><text y="79.3">1905</text><rect y="6.7"/><text y="37.7">2005</text></g>
<rect class="lu" x="881" y="849" width="221" height="38"/><text class="lab" x="991.5" y="879">59A</text>
<rect class="lo" x="1109" y="849" width="69" height="38"/><text class="lab" x="1143.5" y="879">59B</text>
<rect class="lu" x="1185" y="849" width="69" height="38"/><text class="lab" x="1219.5" y="879">59A</text>
<rect class="bar" x="881" y="894" width="373" height="38"/><text class="nm y" text-anchor="end" x="1057" y="923.5" textLength="55" lengthAdjust="spacingAndGlyphs">309동</text><text class="nm" text-anchor="start" x="1066.5" y="923.5" textLength="66.5" lengthAdjust="spacingAndGlyphs">92세대</text>
</g>

<g id="b310" transform="translate(0,1120)">
<g class="col u" transform="translate(1314.5)"><rect y="796"/><text y="827">101</text><rect y="754.5"/><text y="785.5">201</text><rect y="712.9"/><text y="743.9">301</text><rect y="671.4"/><text y="702.4">401</text><rect y="629.8"/><text y="660.8">501</text><rect y="588.3"/><text y="619.3">601</text><rect y="546.8"/><text y="577.8">701</text><rect y="505.2"/><text y="536.2">801</text><rect y="463.7"/><text y="494.7">901</text><rect y="422.1"/><text y="453.1">1001</text></g>
<g class="col u" transform="translate(1390.5)"><rect y="796"/><text y="827">102</text><rect y="754.5"/><text y="785.5">202</text><rect y="712.9"/><text y="743.9">302</text><rect y="671.4"/><text y="702.4">402</text><rect y="629.8"/><text y="660.8">502</text><rect y="588.3"/><text y="619.3">602</text><rect y="546.8"/><text y="577.8">702</text><rect y="505.2"/><text y="536.2">802</text><rect y="463.7"/><text y="494.7">902</text><rect y="422.1"/><text y="453.1">1002</text></g>
<g class="col u" transform="translate(1466.5)"><rect y="796"/><text y="827">103</text><rect y="754.5"/><text y="785.5">203</text><rect y="712.9"/><text y="743.9">303</text><rect y="671.4"/><text y="702.4">403</text><rect y="629.8"/><text y="660.8">503</text><rect y="588.3"/><text y="619.3">603</text><rect y="546.8"/><text y="577.8">703</text><rect y="505.2"/><text y="536.2">803</text><rect y="463.7"/><text y="494.7">903</text><rect y="422.1"/><text y="453.1">1003</text></g>
<g class="col o" transform="translate(1542.5)"><rect y="796"/><text y="827">104</text><rect y="754.5"/><text y="785.5">204</text><rect y="712.9"/><text y="743.9">304</text><rect y="671.4"/><text y="702.4">404</text><rect y="629.8"/><text y="660.8">504</text><rect y="588.3"/><text y="619.3">604</text><rect y="546.8"/><text y="577.8">704</text><rect y="505.2"/><text y="536.2">804</text><rect y="463.7"/><text y="494.7">904</text><rect y="422.1"/><text y="453.1">1004</text></g>
<g class="col u" transform="translate(1618.5)"><rect y="796"/><text y="827">105</text><rect y="754.5"/><text y="785.5">205</text><rect y="712.9"/><text y="743.9">305</text><rect y="671.4"/><text y="702.4">405</text><rect y="629.8"/><text y="660.8">505</text><rect y="588.3"/><text y="619.3">605</text><rect y="546.8"/><text y="577.8">705</text><rect y="505.2"/><text y="536.2">805</text><rect y="463.7"/><text y="494.7">905</text><rect y="422.1"/><text y="453.1">1005</text></g>
<rect class="lu" x="1280" y="849" width="221" height="38"/><text class="lab" x="1390.5" y="879">59A</text>
<rect class="lo" x="1508" y="849" width="69" height="38"/><text class="lab" x="1542.5" y="879">59B</text>
<rect class="lu" x="1584" y="849" width="69" height="38"/><text class="lab" x="1618.5" y="879">59A</text>
<rect class="bar" x="1280" y="894" width="373" height="38"/><text class="nm y" text-anchor="end" x="1456" y="923.5" textLength="55" lengthAdjust="spacingAndGlyphs">310동</text><text class="nm" text-anchor="start" x="1465.5" y="923.5" textLength="66.5" lengthAdjust="spacingAndGlyphs">50세대</text>
</g>

<g id="b311" transform="translate(0,1120)">
<g class="col g" transform="translate(1713.5)"><rect y="796"/><text y="827">101</text><rect y="754.5"/><text y="785.5">201</text><rect y="712.9"/><text y="743.9">301</text><rect y="671.4"/><text y="702.4">401</text><rect y="629.8"/><text y="660.8">501</text><rect y="588.3"/><text y="619.3">601</text><rect y="546.8"/><text y="577.8">701</text><rect y="505.2"/><text y="536.2">801</text><rect y="463.7"/><text y="494.7">901</text><rect y="422.1"/><text y="453.1">1001</text><rect y="380.6"/><text y="411.6">1101</text><rect y="339.1"/><text y="370.1">1201</text><rect y="297.5"/><text y="328.5">1301</text></g>
<g class="col g" transform="translate(1789.5)"><rect y="796"/><text y="827">102</text><rect y="754.5"/><text y="785.5">202</text><rect y="712.9"/><text y="743.9">302</text><rect y="671.4"/><text y="702.4">402</text><rect y="629.8"/><text y="660.8">502</text><rect y="588.3"/><text y="619.3">602</text><rect y="546.8"/><text y="577.8">702</text><rect y="505.2"/><text y="536.2">802</text><rect y="463.7"/><text y="494.7">902</text><rect y="422.1"/><text y="453.1">1002</text><rect y="380.6"/><text y="411.6">1102</text><rect y="339.1"/><text y="370.1">1202</text><rect y="297.5"/><text y="328.5">1302</text></g>
<g class="col p" transform="translate(1865.5)"><rect y="796"/><text y="827">103</text><rect y="754.5"/><text y="785.5">203</text><rect y="712.9"/><text y="743.9">303</text><rect y="671.4"/><text y="702.4">403</text><rect y="629.8"/><text y="660.8">503</text><rect y="588.3"/><text y="619.3">603</text><rect y="546.8"/><text y="577.8">703</text><rect y="505.2"/><text y="536.2">803</text><rect y="463.7"/><text y="494.7">903</text><rect y="422.1"/><text y="453.1">1003</text><rect y="380.6"/><text y="411.6">1103</text><rect y="339.1"/><text y="370.1">1203</text><rect y="297.5"/><text y="328.5">1303</text></g>
<g class="col p" transform="translate(1941.5)"><rect y="796"/><text y="827">104</text><rect y="754.5"/><text y="785.5">204</text><rect y="712.9"/><text y="743.9">304</text><rect y="671.4"/><text y="702.4">404</text><rect y="629.8"/><text y="660.8">504</text><rect y="588.3"/><text y="619.3">604</text><rect y="546.8"/><text y="577.8">704</text><rect y="505.2"/><text y="536.2">804</text><rect y="463.7"/><text y="494.7">904</text><rect y="422.1"/><text y="453.1">1004</text><rect y="380.6"/><text y="411.6">1104</text><rect y="339.1"/><text y="370.1">1204</text><rect y="297.5"/><text y="328.5">1304</text></g>
<rect class="lg" x="1679" y="849" width="145" height="38"/><text class="lab" x="1751.5" y="879">74A</text>
<rect class="lp" x="1831" y="849" width="145" height="38"/><text class="lab" x="1903.5" y="879">84A</text>
<rect class="bar" x="1679" y="894" width="297" height="38"/><text class="nm y" text-anchor="end" x="1817" y="923.5" textLength="55" lengthAdjust="spacingAndGlyphs">311동</text><text class="nm" text-anchor="start" x="1826.5" y="923.5" textLength="66.5" lengthAdjust="spacingAndGlyphs">52세대</text>
</g>

<g id="b312" transform="translate(0,1120)">
<g class="col g" transform="translate(2036.5)"><rect y="796"/><text y="827">101</text><rect y="754.5"/><text y="785.5">201</text><rect y="712.9"/><text y="743.9">301</text><rect y="671.4"/><text y="702.4">401</text><rect y="629.8"/><text y="660.8">501</text><rect y="588.3"/><text y="619.3">601</text><rect y="546.8"/><text y="577.8">701</text><rect y="505.2"/><text y="536.2">801</text><rect y="463.7"/><text y="494.7">901</text><rect y="422.1"/><text y="453.1">1001</text><rect y="380.6"/><text y="411.6">1101</text><rect y="339.1"/><text y="370.1">1201</text><rect y="297.5"/><text y="328.5">1301</text><rect y="256"/><text y="287">1401</text><rect y="214.4"/><text y="245.4">1501</text><rect y="172.9"/><text y="203.9">1601</text><rect y="131.4"/><text y="162.4">1701</text></g>
<g class="col g" transform="translate(2112.5)"><rect y="796"/><text y="827">102</text><rect y="754.5"/><text y="785.5">202</text><rect y="712.9"/><text y="743.9">302</text><rect y="671.4"/><text y="702.4">402</text><rect y="629.8"/><text y="660.8">502</text><rect y="588.3"/><text y="619.3">602</text><rect y="546.8"/><text y="577.8">702</text><rect y="505.2"/><text y="536.2">802</text><rect y="463.7"/><text y="494.7">902</text><rect y="422.1"/><text y="453.1">1002</text><rect y="380.6"/><text y="411.6">1102</text><rect y="339.1"/><text y="370.1">1202</text><rect y="297.5"/><text y="328.5">1302</text><rect y="256"/><text y="287">1402</text><rect y="214.4"/><text y="245.4">1502</text><rect y="172.9"/><text y="203.9">1602</text><rect y="131.4"/><text y="162.4">1702</text></g>
<g class="col b" transform="translate(2188.5)"><rect y="796"/><text y="827">103</text><rect y="754.5"/><text y="785.5">203</text><rect y="712.9"/><text y="743.9">303</text><rect y="671.4"/><text y="702.4">403</text><rect y="629.8"/><text y="660.8">503</text><rect y="588.3"/><text y="619.3">603</text><rect y="546.8"/><text y="577.8">703</text><rect y="505.2"/><text y="536.2">803</text><rect y="463.7"/><text y="494.7">903</text><rect y="422.1"/><text y="453.1">1003</text><rect y="380.6"/><text y="411.6">1103</text><rect y="339.1"/><text y="370.1">1203</text><rect y="297.5"/><text y="328.5">1303</text><rect y="256"/><text y="287">1403</text><rect y="214.4"/><text y="245.4">1503</text><rect y="172.9"/><text y="203.9">1603</text><rect y="131.4"/><text y="162.4">1703</text><rect y="89.8"/><text y="120.8">1803</text><rect y="48.3"/><text y="79.3">1903</text><rect y="6.7"/><text y="37.7">2003</text></g>
<g class="col p" transform="translate(2264.5)"><rect y="796"/><text y="827">104</text><rect y="754.5"/><text y="785.5">204</text><rect y="712.9"/><text y="743.9">304</text><rect y="671.4"/><text y="702.4">404</text><rect y="629.8"/><text y="660.8">504</text><rect y="588.3"/><text y="619.3">604</text><rect y="546.8"/><text y="577.8">704</text><rect y="505.2"/><text y="536.2">804</text><rect y="463.7"/><text y="494.7">904</text><rect y="422.1"/><text y="453.1">1004</text><rect y="380.6"/><text y="411.6">1104</text><rect y="339.1"/><text y="370.1">1204</text><rect y="297.5"/><text y="328.5">1304</text><rect y="256"/><text y="287">1404</text><rect y="214.4"/><text y="245.4">1504</text><rect y="172.9"/><text y="203.9">1604</text><rect y="131.4"/><text y="162.4">1704</text><rect y="89.8"/><text y="120.8">1804</text><rect y="48.3"/><text y="79.3">1904</text><rect y="6.7"/><text y="37.7">2004</text></g>
<rect class="lg" x="2002" y="849" width="145" height="38"/><text class="lab" x="2074.5" y="879">74A</text>
<rect class="lb" x="2154" y="849" width="69" height="38"/><text class="lab" x="2188.5" y="879">84B</text>
<rect class="lp" x="2230" y="849" width="69" height="38"/><text class="lab" x="2264.5" y="879">84A</text>
<rect class="bar" x="2002" y="894" width="297" height="38"/><text class="nm y" text-anchor="end" x="2140" y="923.5" textLength="55" lengthAdjust="spacingAndGlyphs">312동</text><text class="nm" text-anchor="start" x="2149.5" y="923.5" textLength="66.5" lengthAdjust="spacingAndGlyphs">74세대</text>
</g>

<g id="b313" transform="translate(0,1120)">
<g class="col g" transform="translate(2359.5)"><rect y="796"/><text y="827">101</text><rect y="754.5"/><text y="785.5">201</text><rect y="712.9"/><text y="743.9">301</text><rect y="671.4"/><text y="702.4">401</text><rect y="629.8"/><text y="660.8">501</text><rect y="588.3"/><text y="619.3">601</text><rect y="546.8"/><text y="577.8">701</text><rect y="505.2"/><text y="536.2">801</text><rect y="463.7"/><text y="494.7">901</text><rect y="422.1"/><text y="453.1">1001</text><rect y="380.6"/><text y="411.6">1101</text><rect y="339.1"/><text y="370.1">1201</text><rect y="297.5"/><text y="328.5">1301</text><rect y="256"/><text y="287">1401</text><rect y="214.4"/><text y="245.4">1501</text><rect y="172.9"/><text y="203.9">1601</text><rect y="131.4"/><text y="162.4">1701</text><rect y="89.8"/><text y="120.8">1801</text><rect y="48.3"/><text y="79.3">1901</text><rect y="6.7"/><text y="37.7">2001</text></g>
<g class="col g" transform="translate(2435.5)"><rect y="796"/><text y="827">102</text><rect y="754.5"/><text y="785.5">202</text><rect y="712.9"/><text y="743.9">302</text><rect y="671.4"/><text y="702.4">402</text><rect y="629.8"/><text y="660.8">502</text><rect y="588.3"/><text y="619.3">602</text><rect y="546.8"/><text y="577.8">702</text><rect y="505.2"/><text y="536.2">802</text><rect y="463.7"/><text y="494.7">902</text><rect y="422.1"/><text y="453.1">1002</text><rect y="380.6"/><text y="411.6">1102</text><rect y="339.1"/><text y="370.1">1202</text><rect y="297.5"/><text y="328.5">1302</text><rect y="256"/><text y="287">1402</text><rect y="214.4"/><text y="245.4">1502</text><rect y="172.9"/><text y="203.9">1602</text><rect y="131.4"/><text y="162.4">1702</text><rect y="89.8"/><text y="120.8">1802</text><rect y="48.3"/><text y="79.3">1902</text><rect y="6.7"/><text y="37.7">2002</text></g>
<g class="col b" transform="translate(2511.5)"><rect y="796"/><text y="827">103</text><rect y="754.5"/><text y="785.5">203</text><rect y="712.9"/><text y="743.9">303</text><rect y="671.4"/><text y="702.4">403</text><rect y="629.8"/><text y="660.8">503</text><rect y="588.3"/><text y="619.3">603</text><rect y="546.8"/><text y="577.8">703</text><rect y="505.2"/><text y="536.2">803</text><rect y="463.7"/><text y="494.7">903</text><rect y="422.1"/><text y="453.1">1003</text><rect y="380.6"/><text y="411.6">1103</text><rect y="339.1"/><text y="370.1">1203</text><rect y="297.5"/><text y="328.5">1303</text><rect y="256"/><text y="287">1403</text><rect y="214.4"/><text y="245.4">1503</text><rect y="172.9"/><text y="203.9">1603</text><rect y="131.4"/><text y="162.4">1703</text><rect y="89.8"/><text y="120.8">1803</text><rect y="48.3"/><text y="79.3">1903</text><rect y="6.7"/><text y="37.7">2003</text></g>
<g class="col p" transform="translate(2587.5)"><rect y="796"/><text y="827">104</text><rect y="754.5"/><text y="785.5">204</text><rect y="712.9"/><text y="743.9">304</text><rect y="671.4"/><text y="702.4">404</text><rect y="629.8"/><text y="660.8">504</text><rect y="588.3"/><text y="619.3">604</text><rect y="546.8"/><text y="577.8">704</text><rect y="505.2"/><text y="536.2">804</text><rect y="463.7"/><text y="494.7">904</text><rect y="422.1"/><text y="453.1">1004</text><rect y="380.6"/><text y="411.6">1104</text><rect y="339.1"/><text y="370.1">1204</text><rect y="297.5"/><text y="328.5">1304</text><rect y="256"/><text y="287">1404</text><rect y="214.4"/><text y="245.4">1504</text><rect y="172.9"/><text y="203.9">1604</text><rect y="131.4"/><text y="162.4">1704</text><rect y="89.8"/><text y="120.8">1804</text><rect y="48.3"/><text y="79.3">1904</text><rect y="6.7"/><text y="37.7">2004</text></g>
<rect class="lg" x="2325" y="849" width="145" height="38"/><text class="lab" x="2397.5" y="879">74A</text>
<rect class="lb" x="2477" y="849" width="69" height="38"/><text class="lab" x="2511.5" y="879">84B</text>
<rect class="lp" x="2553" y="849" width="69" height="38"/><text class="lab" x="2587.5" y="879">84A</text>
<rect class="bar" x="2325" y="894" width="297" height="38"/><text class="nm y" text-anchor="end" x="2463" y="923.5" textLength="55" lengthAdjust="spacingAndGlyphs">313동</text><text class="nm" text-anchor="start" x="2472.5" y="923.5" textLength="66.5" lengthAdjust="spacingAndGlyphs">80세대</text>
</g>
</svg>
